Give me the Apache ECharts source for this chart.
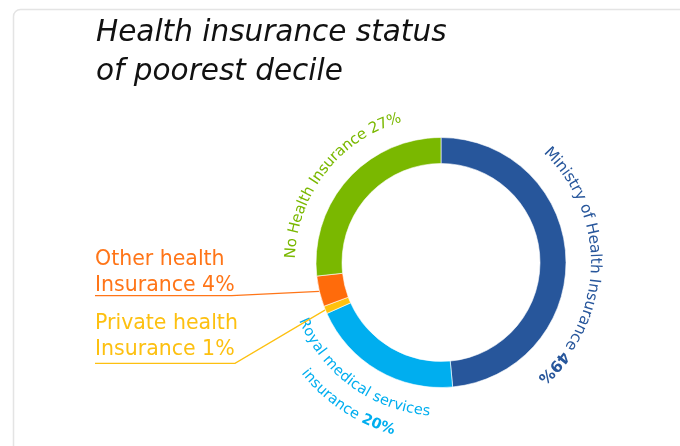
<!DOCTYPE html>
<html>
<head>
<meta charset="utf-8">
<script src="https://cdn.jsdelivr.net/npm/echarts@6/dist/echarts.min.js"></script>
<style>
  html, body { margin: 0; padding: 0; background: #fff; }
  #chart { width: 680px; height: 446px; }
</style>
</head>
<body>
<div id="chart"></div>
<script>
// Insurance categories, clockwise from 12 o'clock
const categories = [
  'Ministry of Health Insurance',
  'Royal medical services insurance',
  'Private health Insurance',
  'Other health Insurance',
  'No Health Insurance'
];
// Share of the poorest decile, percent
const shares = [49, 20, 1, 4, 27];
const colors = ['#27569b', '#00aeef', '#ffc20e', '#ff6b0b', '#7ab800'];
const titleLines = ['Health insurance status', 'of poorest decile'];

const FONT = '"DejaVu Sans", "Liberation Sans", sans-serif';
const CX = 441, CY = 262.5, R_IN = 99, R_OUT = 125;

// slice angles in degrees, clockwise from 12 o'clock (same rule the pie uses)
const total = shares.reduce((a, b) => a + b, 0);
const sliceMid = [];
let acc = 0;
shares.forEach(v => {
  const a = v / total * 360;
  sliceMid.push(acc + a / 2);
  acc += a;
});

const measureCtx = document.createElement('canvas').getContext('2d');
function charWidth(ch, size, weight) {
  measureCtx.font = weight + ' ' + size + 'px "DejaVu Sans"';
  return measureCtx.measureText(ch).width;
}

// Text set one glyph at a time along a circle around the ring.
// outward = true: tops face away from the centre, reading clockwise.
// outward = false: tops face the centre, reading anticlockwise (bottom of ring).
function arcText(segments, centerDeg, radius, size, color, outward) {
  const chars = [];
  segments.forEach(s => {
    for (const ch of s.text) chars.push({ ch, weight: s.weight, w: charWidth(ch, size, s.weight) });
  });
  const len = chars.reduce((a, c) => a + c.w, 0);
  const dir = outward ? 1 : -1;
  let pos = -len / 2;
  const out = [];
  chars.forEach(c => {
    const mid = pos + c.w / 2;
    pos += c.w;
    if (c.ch === ' ') return;
    const th = centerDeg * Math.PI / 180 + dir * mid / radius;
    out.push({
      type: 'text',
      x: CX + radius * Math.sin(th),
      y: CY - radius * Math.cos(th),
      rotation: outward ? -th : -(th - Math.PI),
      silent: true,
      style: {
        text: c.ch, fill: color, fontSize: size, fontFamily: FONT, fontWeight: c.weight,
        align: 'center', verticalAlign: 'middle', textAlign: 'center', textVerticalAlign: 'middle'
      }
    });
  });
  return out;
}

function pct(i) { return shares[i] + '%'; }

const graphics = [];

// card outline
graphics.push({
  type: 'rect', silent: true, z: -10,
  shape: { x: 13.5, y: 9.5, width: 720, height: 480, r: 7 },
  style: { fill: '#fff', stroke: '#e4e4e4', lineWidth: 1.5 }
});

// title
titleLines.forEach((t, k) => {
  graphics.push({
    type: 'text', x: 96, y: 33 + k * 39, silent: true,
    style: {
      text: t, fill: '#111', fontSize: 29.5, fontStyle: 'italic', fontFamily: FONT,
      align: 'left', verticalAlign: 'middle', textAlign: 'left', textVerticalAlign: 'middle'
    }
  });
});

// curved labels
graphics.push(...arcText(
  [{ text: categories[0] + ' ', weight: 'normal' }, { text: pct(0), weight: 'bold' }],
  91.5, 154, 15.5, colors[0], true));
graphics.push(...arcText(
  [{ text: categories[4] + ' ' + pct(4), weight: 'normal' }],
  308, 150, 15, colors[4], true));
graphics.push(...arcText(
  [{ text: 'Royal medical services', weight: 'normal' }],
  216, 149.5, 14.5, colors[1], false));
graphics.push(...arcText(
  [{ text: 'insurance ', weight: 'normal' }, { text: pct(1), weight: 'bold' }],
  213.5, 174.5, 14.5, colors[1], false));

// side labels with underline leaders
const sideLabels = [
  { idx: 3, lines: ['Other health', 'Insurance ' + pct(3)], top: 260, lineY: 295.7, elbowX: 231.7, color: '#ff7518' },
  { idx: 2, lines: ['Private health', 'Insurance ' + pct(2)], top: 324, lineY: 363.3, elbowX: 235, color: '#fdc010' }
];
sideLabels.forEach(s => {
  s.lines.forEach((t, k) => {
    graphics.push({
      type: 'text', x: 95, y: s.top + k * 25.5, silent: true,
      style: {
        text: t, fill: s.color, fontSize: 20.5, fontFamily: FONT,
        align: 'left', verticalAlign: 'middle', textAlign: 'left', textVerticalAlign: 'middle'
      }
    });
  });
  const th = sliceMid[s.idx] * Math.PI / 180;
  const x0 = CX + R_OUT * Math.sin(th), y0 = CY - R_OUT * Math.cos(th);
  graphics.push({
    type: 'polyline', silent: true,
    shape: { points: [[x0, y0], [s.elbowX, s.lineY], [95, s.lineY]] },
    style: { stroke: s.color, lineWidth: 1.2, fill: null }
  });
});

const chart = echarts.init(document.getElementById('chart'), null, { renderer: 'canvas' });
chart.setOption({
  animation: false,
  backgroundColor: '#fff',
  graphic: { elements: graphics },
  series: [{
    type: 'pie',
    center: [CX, CY],
    radius: [R_IN, R_OUT],
    startAngle: 90,
    clockwise: true,
    silent: true,
    label: { show: false },
    labelLine: { show: false },
    emphasis: { disabled: true },
    data: categories.map((n, i) => ({
      name: n, value: shares[i],
      itemStyle: { color: colors[i], borderColor: '#fff', borderWidth: 0.6 }
    }))
  }]
});
</script>
</body>
</html>
